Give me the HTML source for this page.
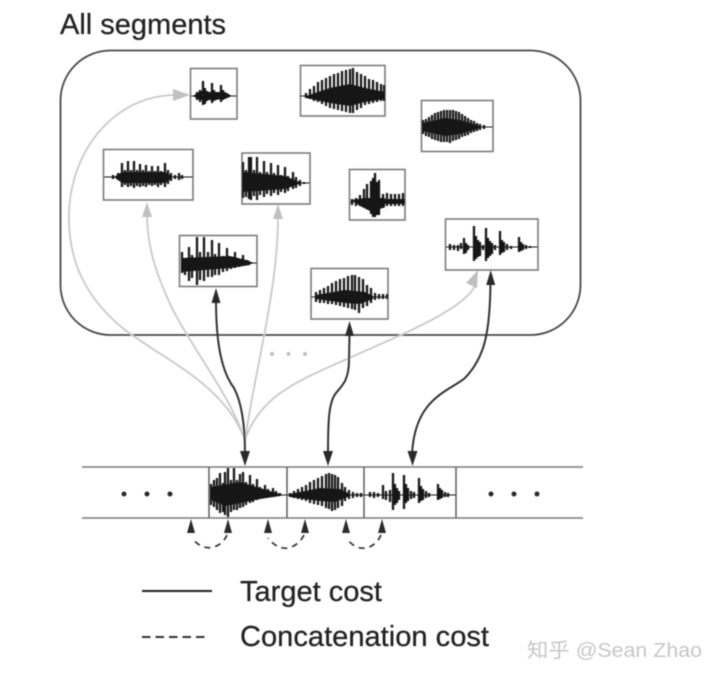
<!DOCTYPE html>
<html><head><meta charset="utf-8"><style>
html,body{margin:0;padding:0;background:#fff;width:720px;height:678px;overflow:hidden}
svg{display:block}
text{font-family:"Liberation Sans","Noto Sans CJK SC",sans-serif}
</style></head><body>
<svg xmlns="http://www.w3.org/2000/svg" width="720" height="678" viewBox="0 0 720 678">
<defs><filter id="b" x="-2%" y="-2%" width="104%" height="104%"><feGaussianBlur stdDeviation="0.4"/></filter></defs>
<g filter="url(#b)">
<text x="60" y="34" font-size="29" fill="#222" stroke="#222" stroke-width="0.25" textLength="166" lengthAdjust="spacingAndGlyphs">All segments</text>
<rect x="60.500" y="50.500" width="520" height="284.500" rx="50" ry="50" fill="none" stroke="#4a4a4a" stroke-width="1.800"/>

<g fill="none" stroke="#c9c9c9" stroke-width="1.800">
<path d="M245,440 C225,385 165,360 125,330 C85,298 68,260 69,215 C70,150 115,95 176,95"/>
<path d="M245,440 C230,395 190,345 172,308 C155,272 147,245 147,214"/>
<path d="M245,440 C255,370 278,290 278,217"/>
<path d="M245,440 C260,395 300,380 347,359 C400,335 465,310 476,284"/>
</g>
<g fill="#c0c0c0">
<polygon points="190,95 173,89 173,101"/>
<polygon points="147,202 142,217 152,217"/>
<polygon points="278,204 273,219 283,219"/>
<polygon points="478,270 466,283 477,288"/>
<circle cx="272" cy="354" r="2"/><circle cx="288.500" cy="354" r="2"/><circle cx="305" cy="354" r="2"/>
</g>

<g fill="none" stroke="#333" stroke-width="2">
<path d="M216,300 C216,345 222,372 234,388 C243,405 245,430 245,454"/>
<path d="M349.500,334 L349,360 C349,385 338,388 334,396 C329,405 328,420 328,454"/>
<path d="M490.500,282 C490,335 484,358 465,378 C448,392 415,398 412,454"/>
</g>
<g fill="#2a2a2a">
<polygon points="216,288 211.500,303 220.500,303"/>
<polygon points="349.500,321 345,336 354,336"/>
<polygon points="490.700,270 486.200,285 495.200,285"/>
<polygon points="245,466 240,451 250,451"/>
<polygon points="328,466 323,451 333,451"/>
<polygon points="412.500,466 407.500,451 417.500,451"/>
<polygon points="191,519 187,533 195,533"/>
<polygon points="228,519 224,533 232,533"/>
<polygon points="268,519 264,533 272,533"/>
<polygon points="305,519 301,533 309,533"/>
<polygon points="346,519 342,533 350,533"/>
<polygon points="382,519 378,533 386,533"/>
<circle cx="124" cy="494" r="2.500"/><circle cx="147" cy="494" r="2.500"/><circle cx="170" cy="494" r="2.500"/>
<circle cx="491" cy="494" r="2.500"/><circle cx="514" cy="494" r="2.500"/><circle cx="537" cy="494" r="2.500"/>
</g>

<g fill="none" stroke="#7c7c7c" stroke-width="1.600">
<rect x="190.500" y="68.500" width="46.500" height="50.500"/>
<rect x="300.500" y="65.500" width="84.500" height="50.500"/>
<rect x="421.500" y="100.500" width="71.500" height="51"/>
<rect x="103.500" y="149.500" width="89.500" height="50.500"/>
<rect x="242" y="153" width="68" height="51"/>
<rect x="349.500" y="169.500" width="55.500" height="50.500"/>
<rect x="179.500" y="235.500" width="77.500" height="51"/>
<rect x="311" y="268.500" width="77" height="50.500"/>
<rect x="445.500" y="219" width="92.500" height="51"/>
</g>
<g stroke="#7a7a7a" stroke-width="1.600" fill="none">
<path d="M82,467 H583 M82,518 H583"/>
<path d="M209,467 V518 M287,467 V518 M364,467 V518 M456,467 V518" stroke="#666"/>
</g>
<g fill="none" stroke="#333" stroke-width="1.700" stroke-dasharray="6 5">
<path d="M227,535 C222,547 205,555 192,538"/>
<path d="M304,535 C298,547 282,556 268,538"/>
<path d="M381,535 C376,547 360,556 346,538"/>
</g>

<g fill="#141414" stroke="none">
<polygon points="193,96 200,91 210,92 225,92 232,96 225,99 210,100 200,100"/>
<polygon points="306,96 330,88 350,84 365,88 385,92 385,99 365,102 350,106 330,103 306,98"/>
<polygon points="423,123 445,118 460,120 480,126 480,128 460,134 445,136 423,131"/>
<polygon points="114,177 122,172 165,172 172,176 172,178 165,183 122,183"/>
<polygon points="243,172 285,176 302,183 285,189 243,192"/>
<polygon points="352,200 365,198 385,198 385,207 372,212 360,206"/>
<polygon points="385,199 405,199 405,204 385,204"/>
<polygon points="181,258 230,256 250,261 250,265 230,268 181,272"/>
<polygon points="316,295 345,290 365,292 373,296 373,299 360,304 345,303 316,299"/>
<polygon points="211,487 240,482 260,488 280,494 280,496 260,499 240,503 225,506 211,500"/>
<polygon points="290,494 320,488 340,489 350,494 350,496 335,502 320,501 290,497"/>
</g>
<g fill="none" stroke="#141414" stroke-width="2.300">
<path stroke-width="1.100" d="M191,96H237M300,96H385M422,127H493M104,177H193M285,183H310M350,202H405M240,263H257M311,297H388M446,247H538M270,495H456"/>
<path d="M197,92V100M200,90V102M203,81V105M205,88V104M207,91V101M209,92V100M212,83V103M214,90V101M216,92V100M221,85V102M223,90V100M226,93V98M229,95V97"/>
<path d="M306,93V98M310,89V99M314,86V101M318,82V102M322,80V104M326,78V106M330,76V108M334,74V109M338,73V110M342,71V111M346,70V112M350,69V113M353,68V113M357,72V110M361,74V108M365,76V105M369,79V104M373,80V103M377,82V102M381,84V101M384,85V101"/>
<path d="M423,120V134M426,119V136M429,117V137M432,115V139M435,113V140M438,112V141M441,111V142M444,110V142M447,110V142M450,110V143M453,110V141M456,111V140M459,112V139M462,114V137M465,116V136M468,118V135M471,120V133M474,121V132M477,123V131M480,124V130M484,125V129"/>
<path d="M113,175V179M118,173V180M122,163V187M125,170V185M128,161V187M131,170V186M134,161V188M137,170V186M140,164V187M143,170V186M146,165V187M149,171V185M152,166V186M155,171V185M158,166V187M161,171V185M165,163V187M168,170V184M171,173V181M175,175V179M179,173V180M182,175V179"/>
<path d="M243,162V198M246,170V197M249,157V199M251,157V200M254,170V196M257,157V200M260,172V195M264,161V197M267,172V194M271,163V196M274,173V193M278,165V195M281,175V192M285,167V193M288,176V191M293,172V189M296,177V188M300,180V186M304,182V184"/>
<path d="M352,199V205M356,198V206M360,195V206M364,189V207M367,184V209M371,181V214M373,178V217M375,173V217M377,182V215M379,180V215M383,194V208M387,193V206M391,194V206M395,194V206M399,194V206M403,193V206"/>
<path d="M182,252V273M185,258V275M189,247V281M192,255V278M197,237V285M200,252V280M204,237V281M208,252V277M212,240V277M215,254V275M219,243V275M223,256V272M227,248V271M231,258V269M235,252V268M239,259V267M243,255V266M247,260V265M251,262V264"/>
<path d="M316,292V302M320,290V303M324,288V303M328,286V304M332,283V304M336,281V305M340,279V306M344,278V307M348,276V308M352,275V309M355,275V310M359,277V313M363,279V308M367,285V306M371,288V303M375,293V300M379,294V299M383,294V299M387,294V299"/>
<path d="M450,244V250M454,245V250M458,245V251M461,243V249M464,238V254M466,243V253M468,245V250M474,226V261M476,236V259M478,240V257M480,242V256M483,245V250M486,228V261M488,238V258M490,241V256M492,243V254M495,245V250M500,231V255M502,240V253M504,242V252M507,244V250M511,246V249M519,237V252M521,242V251M523,244V250M526,245V249M530,246V248"/>
<path d="M211,484V505M214,480V507M217,478V510M220,473V513M223,483V512M225,472V515M228,468V517M231,480V512M234,468V510M237,480V510M240,474V508M243,472V507M246,482V505M250,475V503M253,484V502M257,479V500M260,487V499M265,485V498M268,489V497M273,488V497M276,491V496M280,493V496"/>
<path d="M290,493V497M294,491V498M298,489V499M302,487V500M306,485V501M310,482V503M314,480V504M318,478V505M322,476V506M326,474V508M329,473V509M332,474V511M335,475V510M338,477V508M342,483V506M345,487V501M349,490V499M353,492V498M357,493V497M361,493V497"/>
<path d="M370,492V497M374,492V498M378,493V497M383,485V499M386,491V500M390,490V502M393,473V510M395,484V505M397,488V503M399,491V500M404,475V509M406,484V503M408,488V501M411,491V499M414,492V498M419,478V503M421,486V501M423,489V500M426,491V498M429,493V497M438,484V500M440,488V499M442,490V498M445,492V497M448,493V497"/>
</g>

<line x1="142" y1="591" x2="212" y2="591" stroke="#222" stroke-width="2"/>
<line x1="142" y1="637" x2="206" y2="637" stroke="#333" stroke-width="2" stroke-dasharray="8.500 5"/>
<text x="240" y="601" font-size="29" fill="#222" stroke="#222" stroke-width="0.25" textLength="142" lengthAdjust="spacingAndGlyphs">Target cost</text>
<text x="240" y="646" font-size="29" fill="#222" stroke="#222" stroke-width="0.25" textLength="249" lengthAdjust="spacingAndGlyphs">Concatenation cost</text>
<text x="527" y="657" font-size="20" fill="#c6c6c6" textLength="175" lengthAdjust="spacingAndGlyphs">知乎 @Sean Zhao</text>
</g>
</svg>
</body></html>
